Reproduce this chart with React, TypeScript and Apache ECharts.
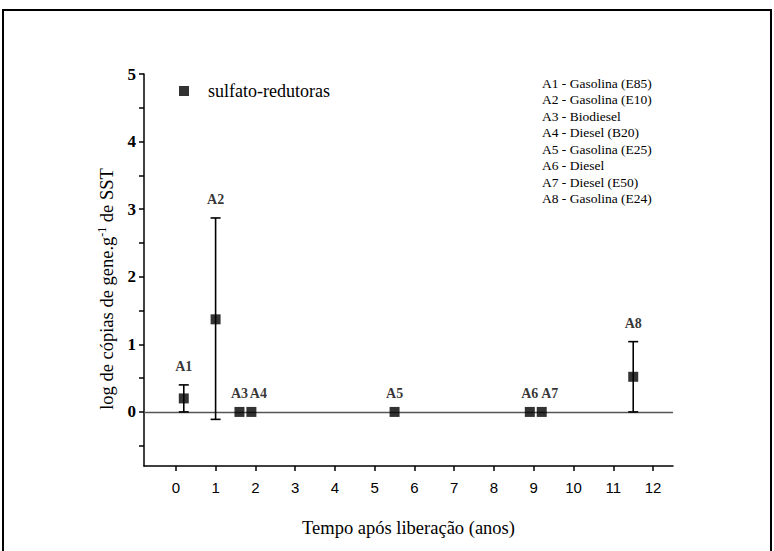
import React, { useEffect, useRef } from "react";
import * as echarts from "echarts";

// ---- data ----
const sites = ["A1", "A2", "A3", "A4", "A5", "A6", "A7", "A8"];
const years = [0.2, 1, 1.6, 1.9, 5.5, 8.9, 9.2, 11.5];
const logCopies = [0.2, 1.37, 0, 0, 0, 0, 0, 0.52];
const errLow: (number | null)[] = [0, -0.11, null, null, null, null, null, 0];
const errHigh: (number | null)[] = [0.4, 2.87, null, null, null, null, null, 1.04];
const siteDescriptions = [
  "A1 - Gasolina (E85)",
  "A2 - Gasolina (E10)",
  "A3 - Biodiesel",
  "A4 - Diesel (B20)",
  "A5 - Gasolina (E25)",
  "A6 - Diesel",
  "A7 - Diesel (E50)",
  "A8 - Gasolina (E24)",
];
const seriesName = "sulfato-redutoras";
const xAxisTitle = "Tempo após liberação (anos)";
const yAxisTitle = "log de cópias de gene.g{sup|-1} de SST";
const xTicks = [0, 1, 2, 3, 4, 5, 6, 7, 8, 9, 10, 11, 12];
const yLabels = [0, 1, 2, 3, 4, 5];
const yTicks = [-0.5, 0, 0.5, 1, 1.5, 2, 2.5, 3, 3.5, 4, 4.5, 5];

const SERIF = "'Liberation Serif', 'Times New Roman', serif";
const SANS = "'Liberation Sans Narrow', 'Liberation Sans', Arial, sans-serif";
// horizontal nudges for labels that would collide with a neighbour
const labelNudge: Record<string, number> = { A4: 7, A7: 8 };

export default function App() {
  const ref = useRef<HTMLDivElement>(null);
  useEffect(() => {
    if (!ref.current) return;
    const chart = echarts.init(ref.current, null, { renderer: "svg" });

    const errData = sites
      .map((s, i) => (errLow[i] == null ? null : [years[i], errLow[i], errHigh[i]]))
      .filter((d) => d != null);

    const labelData = sites.map((s, i) => ({
      name: s,
      value: [years[i], Math.max(logCopies[i], errHigh[i] == null ? logCopies[i] : (errHigh[i] as number))],
      label: { offset: [labelNudge[s] || 0, 0] },
    }));

    chart.setOption({
      animation: false,
      backgroundColor: "#fff",
      grid: { left: 144, right: 101, top: 74, bottom: 85 },
      legend: {
        data: [{ name: seriesName, icon: "rect" }],
        left: 174,
        top: 77,
        itemWidth: 10,
        itemHeight: 10,
        textStyle: { fontFamily: SERIF, fontSize: 18, color: "#000", padding: [0, 0, 0, 14] },
        selectedMode: false,
      },
      xAxis: {
        type: "value",
        min: -0.8,
        max: 12.5,
        name: xAxisTitle,
        nameLocation: "middle",
        nameGap: 52,
        nameTextStyle: { fontFamily: SERIF, fontSize: 18.5, color: "#000" },
        axisLine: { show: true, onZero: false, lineStyle: { color: "#000", width: 1.5 } },
        axisTick: { show: true, inside: false, length: 5, customValues: xTicks, lineStyle: { color: "#000", width: 1.5 } },
        axisLabel: { customValues: xTicks, margin: 14, fontFamily: SANS, fontSize: 15, color: "#000" },
        splitLine: { show: false },
      },
      yAxis: {
        type: "value",
        min: -0.8,
        max: 5,
        axisLine: { show: true, onZero: false, lineStyle: { color: "#000", width: 1.5 } },
        axisTick: { show: true, inside: false, length: 5, customValues: yTicks, lineStyle: { color: "#000", width: 1.5 } },
        axisLabel: { customValues: yLabels, margin: 8, fontFamily: SERIF, fontWeight: "bold", fontSize: 17, color: "#000" },
        splitLine: { show: false },
      },
      graphic: [
        {
          type: "rect",
          shape: { x: 3, y: 10, width: 768, height: 545 },
          style: { fill: "none", stroke: "#000", lineWidth: 2 },
          silent: true,
        },
        {
          type: "text",
          x: 107,
          y: 289,
          rotation: Math.PI / 2,
          silent: true,
          style: {
            text: yAxisTitle,
            align: "center",
            verticalAlign: "middle",
            fontFamily: SERIF,
            fontSize: 18.5,
            fill: "#000",
            rich: { sup: { fontFamily: SERIF, fontSize: 12, fill: "#000", padding: [0, 0, 10, 0] } },
          },
        },
        ...siteDescriptions.map((t, i) => ({
          type: "text",
          left: 542,
          top: 76 + i * 16.5,
          style: { text: t, fontFamily: SERIF, fontSize: 13.5, fill: "#000" },
          silent: true,
        })),
      ],
      series: [
        {
          type: "custom",
          name: "erro",
          data: errData,
          encode: { x: 0, y: [1, 2] },
          z: 3,
          silent: true,
          renderItem: (params: any, api: any) => {
            const x = api.value(0);
            const lo = api.coord([x, api.value(1)]);
            const hi = api.coord([x, api.value(2)]);
            const w = 5;
            const st = { stroke: "#000", lineWidth: 1.6 };
            return {
              type: "group",
              children: [
                { type: "line", shape: { x1: lo[0], y1: lo[1], x2: hi[0], y2: hi[1] }, style: st },
                { type: "line", shape: { x1: lo[0] - w, y1: lo[1], x2: lo[0] + w, y2: lo[1] }, style: st },
                { type: "line", shape: { x1: hi[0] - w, y1: hi[1], x2: hi[0] + w, y2: hi[1] }, style: st },
              ],
            };
          },
        },
        {
          type: "scatter",
          name: seriesName,
          symbol: "rect",
          symbolSize: 10,
          z: 5,
          itemStyle: { color: "#000" },
          data: sites.map((s, i) => ({ name: s, value: [years[i], logCopies[i]] })),
          markLine: {
            silent: true,
            symbol: "none",
            label: { show: false },
            lineStyle: { color: "#555", width: 1.3, type: "solid" },
            data: [{ yAxis: 0 }],
            z: 1,
          },
        },
        {
          type: "scatter",
          name: "rotulos",
          symbolSize: 0,
          silent: true,
          itemStyle: { color: "transparent" },
          label: {
            show: true,
            position: "top",
            distance: 11,
            formatter: "{b}",
            fontFamily: SERIF,
            fontWeight: "bold",
            fontSize: 14,
            color: "#000",
          },
          data: labelData,
        },
      ],
    });
    return () => chart.dispose();
  }, []);
  return <div ref={ref} style={{ position: "fixed", left: 0, top: 0, width: 774, height: 551 }} />;
}
